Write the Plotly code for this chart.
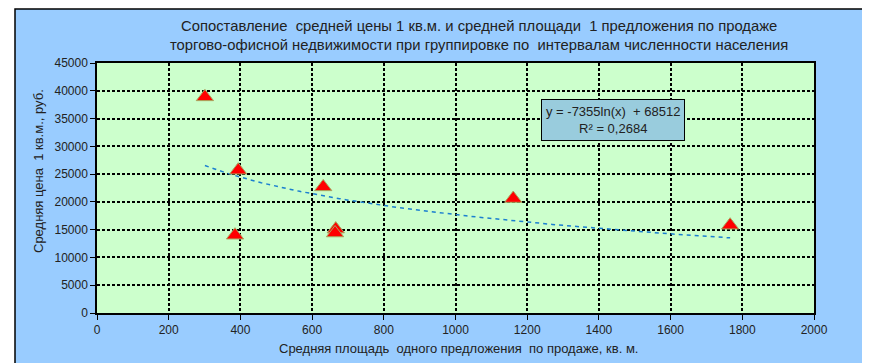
import numpy as np
import plotly.graph_objects as go

# Data
area = [301, 394, 385, 631, 666, 664, 1161, 1766]
price = [38900, 25700, 14000, 22700, 15100, 14400, 20600, 15800]
trend_a = -7355
trend_b = 68512
r2_text = "0,2684"

title_lines = ["Сопоставление  средней цены 1 кв.м. и средней площади  1 предложения по продаже",
               "торгово-офисной недвижимости при группировке по  интервалам численности населения"]
x_title = "Средняя площадь  одного предложения  по продаже, кв. м."
y_title = "Средняя цена  1 кв.м., руб."

FONT = "Liberation Sans"
TXT = "#222222"

tx = np.geomspace(min(area), max(area), 60)
ty = trend_a * np.log(tx) + trend_b

fig = go.Figure()
fig.add_trace(go.Scatter(x=tx, y=ty, mode="lines",
                         line=dict(color="#1B7FD0", width=1.5, dash="4px,4px"),
                         hoverinfo="skip", showlegend=False))
fig.add_trace(go.Scatter(x=area, y=price, mode="markers",
                         marker=dict(symbol="triangle-up", size=15, color="#FF0000",
                                     line=dict(color="#A8A860", width=1)),
                         showlegend=False))

OFF = 8  # page body margin in the screenshot
W, H = 870, 363
L = 97 - OFF
T = 63 - OFF
R = W - (814 - OFF)
B = H - (313 - OFF)
pw, ph = W - L - R, H - T - B


def px2paper_x(px):
    return (px - OFF - L) / pw


def px2paper_y(py):
    return (H - B - (py - OFF)) / ph


# white strips outside the chart frame (left and top), then black frame outline
fig.add_shape(type="rect", xref="paper", yref="paper",
              x0=px2paper_x(0), x1=px2paper_x(15), y0=px2paper_y(400), y1=px2paper_y(0),
              fillcolor="white", line=dict(width=0), layer="below")
fig.add_shape(type="rect", xref="paper", yref="paper",
              x0=px2paper_x(0), x1=px2paper_x(900), y0=px2paper_y(9), y1=px2paper_y(0),
              fillcolor="white", line=dict(width=0), layer="below")
fig.add_shape(type="rect", xref="paper", yref="paper",
              x0=px2paper_x(15), x1=px2paper_x(900), y0=px2paper_y(400), y1=px2paper_y(9),
              fillcolor="rgba(0,0,0,0)", line=dict(color="black", width=1.5), layer="below")

fig.add_annotation(xref="paper", yref="paper", x=px2paper_x(479), y=px2paper_y(36),
                   text="<br>".join(title_lines), showarrow=False,
                   font=dict(family=FONT, size=14.8, color=TXT), borderpad=0,
                   align="center", xanchor="center", yanchor="middle")

fig.add_annotation(xref="paper", yref="paper", x=px2paper_x(613), y=px2paper_y(120),
                   text=f"y = {trend_a}ln(x)  + {trend_b}<br>R² = {r2_text}",
                   showarrow=False, font=dict(family=FONT, size=13, color=TXT),
                   align="center", bgcolor="#99CCDD", bordercolor="black", borderwidth=1,
                   borderpad=4, xanchor="center", yanchor="middle")

fig.add_annotation(xref="paper", yref="paper", x=px2paper_x(458), y=px2paper_y(348),
                   text=x_title, showarrow=False, font=dict(family=FONT, size=13, color=TXT),
                   xanchor="center", yanchor="middle")
fig.add_annotation(xref="paper", yref="paper", x=px2paper_x(38), y=px2paper_y(171),
                   text=y_title, showarrow=False, textangle=-90,
                   font=dict(family=FONT, size=13, color=TXT),
                   xanchor="center", yanchor="middle")

grid = dict(showgrid=True, gridcolor="black", gridwidth=1.5, griddash="3px,2px",
            showline=True, linecolor="black", linewidth=1.5, mirror=True,
            ticks="outside", ticklen=5, tickcolor="black", zeroline=False,
            automargin=False, tickformat="d",
            tickfont=dict(family=FONT, size=12, color=TXT))

fig.update_xaxes(range=[0, 2000], dtick=200, **grid)
fig.update_yaxes(range=[0, 45000], dtick=5000, **grid)

fig.update_layout(width=W, height=H, margin=dict(l=L, r=R, t=T, b=B, autoexpand=False),
                  paper_bgcolor="#99CCFF", plot_bgcolor="#CCFFCC",
                  font=dict(family=FONT))

fig.write_html("out.html")
